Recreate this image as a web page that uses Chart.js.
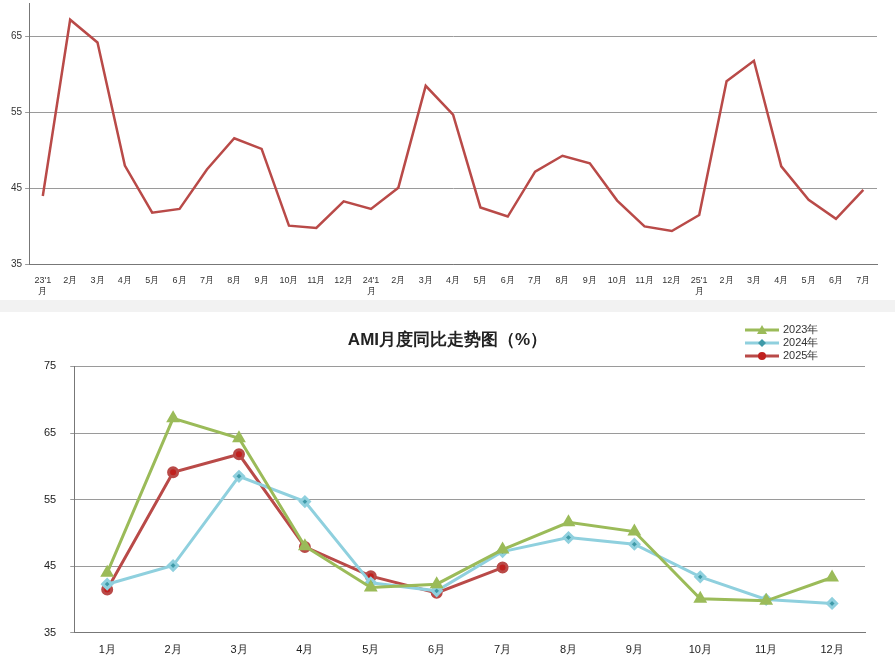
<!DOCTYPE html>
<html>
<head>
<meta charset="utf-8">
<script src="https://cdn.jsdelivr.net/npm/chart.js@4"></script>
<style>
  body { margin: 0; background: #fff; font-family: "Noto Sans CJK SC", sans-serif; }
  #top { position: absolute; left: 0; top: -6px; width: 895px; height: 306px; }
  #sep { position: absolute; left: 0; top: 300px; width: 895px; height: 12px; background: #f2f2f2; }
  #bottom { position: absolute; left: 0; top: 316px; width: 895px; height: 348px; }
</style>
</head>
<body>
<div id="top"><canvas id="c1"></canvas></div>
<div id="sep"></div>
<div id="bottom"><canvas id="c2"></canvas></div>
<script>
// valeurs
const mois = ['1月', '2月', '3月', '4月', '5月', '6月', '7月', '8月', '9月', '10月', '11月', '12月'];
const ami2023 = [44.0, 67.2, 64.2, 48.0, 41.8, 42.3, 47.5, 51.6, 50.2, 40.1, 39.8, 43.3];
const ami2024 = [42.3, 45.1, 58.5, 54.7, 42.5, 41.3, 47.2, 49.3, 48.3, 43.4, 40.0, 39.4];
const ami2025 = [41.5, 59.1, 61.8, 47.9, 43.5, 41.0, 44.8];
const ticksY = [35, 45, 55, 65, 75];

// axe du haut : 23'1 .. 25'7
const labelsSuite = [];
['23', '24', '25'].forEach((an, i) => {
  const n = i === 2 ? ami2025.length : 12;
  for (let m = 1; m <= n; m++) {
    labelsSuite.push(m === 1 ? [an + "'1", '月'] : m + '月');
  }
});
const suite = ami2023.concat(ami2024, ami2025);

const grille = { color: '#9a9a9a', lineWidth: 1, drawTicks: true, tickLength: 4 };
const fixTicks = (axis) => { axis.ticks = ticksY.filter(v => v <= axis.max).map(v => ({ value: v })); };

new Chart(document.getElementById('c1'), {
  type: 'line',
  data: {
    labels: labelsSuite,
    datasets: [{ data: suite, borderColor: '#b94a48', borderWidth: 2.5, pointRadius: 0, tension: 0 }],
  },
  options: {
    responsive: true, maintainAspectRatio: false, animation: false,
    layout: { padding: { top: 0, right: 18, left: 8, bottom: 0 } },
    plugins: { legend: { display: false }, tooltip: { enabled: false } },
    scales: {
      x: {
        offset: true,
        grid: { display: false, drawTicks: true },
        border: { color: '#777' },
        ticks: { autoSkip: false, maxRotation: 0, font: { size: 9 }, color: '#333' },
      },
      y: {
        min: 35, max: 69.4,
        afterBuildTicks: fixTicks,
        grid: grille,
        border: { color: '#777' },
        ticks: { font: { size: 10 }, color: '#333' },
      },
    },
  },
});

new Chart(document.getElementById('c2'), {
  type: 'line',
  data: {
    labels: mois,
    datasets: [
      { label: '2023年', data: ami2023, borderColor: '#9bbb59', backgroundColor: '#9bbb59', borderWidth: 3, pointStyle: 'triangle', pointRadius: 5, tension: 0 },
      { label: '2024年', data: ami2024, borderColor: '#8fd0de', backgroundColor: '#3f9aa8', borderWidth: 3, pointStyle: 'rectRot', pointRadius: 4.5, tension: 0 },
      { label: '2025年', data: ami2025, borderColor: '#b94a48', backgroundColor: '#c0201e', borderWidth: 3, pointStyle: 'circle', pointRadius: 4.5, tension: 0 },
    ],
  },
  options: {
    responsive: true, maintainAspectRatio: false, animation: false,
    layout: { padding: { top: 0, right: 30, left: 30, bottom: 4 } },
    plugins: {
      title: { display: true, text: 'AMI月度同比走势图（%）', font: { size: 17, weight: 'bold' }, color: '#222', padding: { top: 14, bottom: 16 } },
      legend: { display: false },
      tooltip: { enabled: false },
    },
    scales: {
      x: {
        offset: true,
        grid: { display: false },
        border: { color: '#777' },
        ticks: { font: { size: 11 }, color: '#222' },
      },
      y: {
        min: 35, max: 75,
        afterBuildTicks: fixTicks,
        grid: grille,
        border: { color: '#777' },
        ticks: { font: { size: 11 }, color: '#222', padding: 14 },
      },
    },
  },
  plugins: [{
    id: 'legende',
    afterDraw(chart) {
      const ctx = chart.ctx;
      ctx.save();
      chart.data.datasets.forEach((ds, i) => {
        const y = 14 + i * 13, x = 745;
        ctx.strokeStyle = ds.borderColor; ctx.lineWidth = 3;
        ctx.beginPath(); ctx.moveTo(x, y); ctx.lineTo(x + 34, y); ctx.stroke();
        ctx.fillStyle = ds.backgroundColor;
        ctx.beginPath();
        if (ds.pointStyle === 'triangle') { ctx.moveTo(x + 17, y - 5); ctx.lineTo(x + 22, y + 4); ctx.lineTo(x + 12, y + 4); }
        else if (ds.pointStyle === 'rectRot') { ctx.moveTo(x + 17, y - 4); ctx.lineTo(x + 21, y); ctx.lineTo(x + 17, y + 4); ctx.lineTo(x + 13, y); }
        else { ctx.arc(x + 17, y, 4, 0, Math.PI * 2); }
        ctx.fill();
        ctx.fillStyle = '#333'; ctx.font = '11px "Liberation Sans", sans-serif'; ctx.textBaseline = 'middle';
        ctx.fillText(ds.label, x + 38, y);
      });
      ctx.restore();
    },
  }],
});
</script>
</body>
</html>
